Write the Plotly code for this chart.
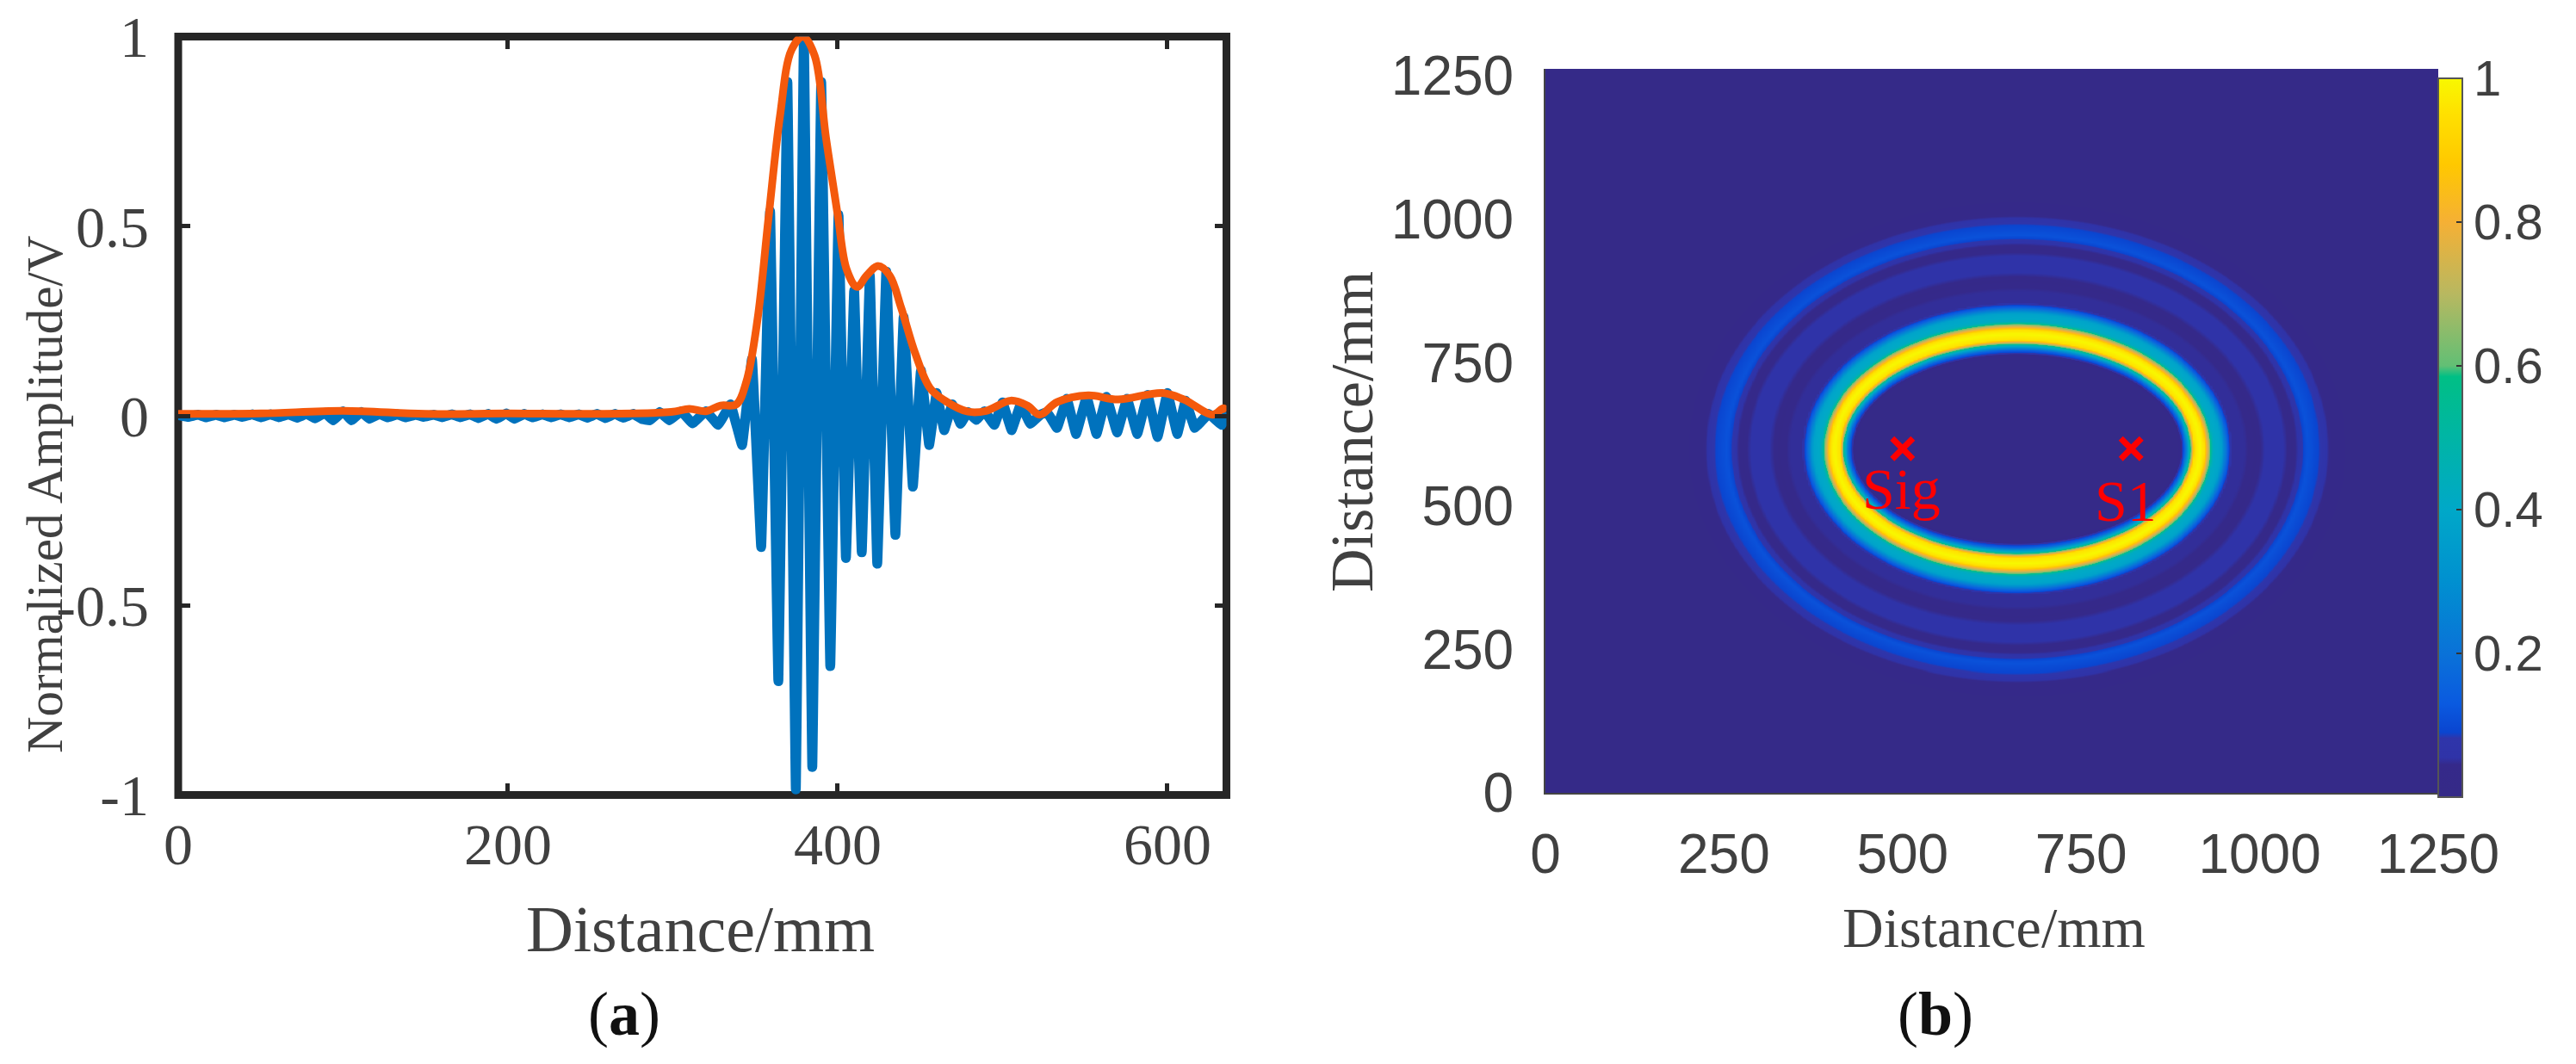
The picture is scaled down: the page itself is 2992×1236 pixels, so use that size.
import numpy as np
import plotly.graph_objects as go

W, H = 2992, 1236

# ---- left panel: oscillating signal, crest / trough readings ----
signal_x = [0,6,12,17,23,28,34,39,45,50,56,61,67,72,78,83,89,94,100,105,111,116,122,127,133,138,144,149,155,160,
            166,171,177,182,188,193,199,204,210,215,221,226,232,237,243,248,254,259,265,270,276,281,
            286,292,298,305,312,320,327.5,335,342,348,353.6,359,364,369.5,374.6,379.5,384.6,390,395.5,400.5,405,410,
            414.6,419.5,424,429.5,435,440,445.6,450.5,455.5,460,464.6,469.5,474.5,479,484,489,495,500,505.5,511,516.8,
            523,527,533,539,544.6,551,557,563,569.5,575.5,581.7,588,594,600,606,611,616.6,625,633,636]
signal_y = [.002,-.003,.003,-.004,.003,-.004,.003,-.003,.004,-.004,.004,-.004,.004,-.005,.005,-.007,.008,-.012,.012,-.012,.01,-.008,.005,-.004,.004,-.004,.003,-.003,.003,-.004,
            .004,-.004,.004,-.006,.005,-.008,.006,-.008,.005,-.004,.004,-.004,.004,-.004,.004,-.005,.005,-.006,.005,-.005,.005,-.008,
            -.012,.01,-.012,.012,-.02,.012,-.024,.03,-.077,.15,-.346,.54,-.70,.88,-.985,1.0,-.926,.88,-.66,.53,-.375,.33,
            -.36,.37,-.39,.38,-.314,.26,-.187,.12,-.077,.06,-.038,.03,-.021,.01,-.011,.012,-.024,.035,-.038,.03,-.021,
            .003,.01,-.032,.045,-.048,.05,-.048,.05,-.044,.045,-.048,.055,-.056,.06,-.048,.04,-.032,.005,-.024,.01]

# ---- left panel: envelope readings ----
envelope_x = [0,50,100,150,200,250,299,310,320,329,338.5,344.6,351.4,358,365,372,379,386,393,400,405.5,411.7,417.6,424.5,
              431.5,438.5,447,456,465,479,490,505,515,522.6,533,552,570,597,610,627.6,634,636]
envelope_y = [.005,.006,.013,.005,.006,.005,.01,.018,.012,.027,.03,.09,.255,.52,.79,.965,1.0,.95,.73,.53,.385,.34,.37,.395,
              .37,.285,.165,.073,.04,.011,.013,.04,.027,.003,.036,.054,.043,.06,.043,.003,.02,.012]

# ---- right panel: ring profile read across the image, value against ellipse semi-axis ----
ring_a = [0,225,229,235,241,248,256,262,268,274,285,294,300,318,334,350,370,384,392,406,422,442,470,900]
ring_v = [.018,.02,.03,.15,.45,.95,1.0,.95,.7,.42,.38,.15,.05,.05,.035,.06,.06,.035,.05,.115,.09,.03,.018,.018]
focus_x = [500, 820]
focus_y = [600, 600]
focus_labels = ["Sig", "S1"]
label_x = [499, 812]
label_y = [530, 508]

x_ticks_a = [0, 200, 400, 600]
y_ticks_a = [-1, -0.5, 0, 0.5, 1]
y_text_a = ["-1", "-0.5", "0", "0.5", "1"]
ticks_b = [0, 250, 500, 750, 1000, 1250]
cbar_ticks = [0.2, 0.4, 0.6, 0.8, 1]
cbar_text = ["0.2", "0.4", "0.6", "0.8", "1"]

colorscale = [[0, "#352a87"], [.045, "#35298a"], [.055, "#2f33a8"], [.082, "#2f35aa"], [.09, "#0a45d0"],
              [.13, "#0a5ae0"], [.2, "#0a72d8"], [.3, "#0090d0"], [.4, "#00a8c8"], [.5, "#00b5a5"],
              [.585, "#00bf85"], [.6, "#62bf75"], [.7, "#b8b860"], [.8, "#f5b035"], [.88, "#ffc800"],
              [.95, "#ffe000"], [1, "#f8f800"]]

# The image field: each cell takes the hand-read ring value for the ellipse through it (foci at the two sensors).
gx = np.linspace(0, 1250, 420)
gy = np.linspace(0, 1262, 420)
X, Y = np.meshgrid(gx, gy)
semi = (np.hypot(X - focus_x[0], Y - focus_y[0]) + np.hypot(X - focus_x[1], Y - focus_y[1])) / 2
field = np.interp(semi, ring_a, ring_v)

def fx(p): return p / W
def fy(p): return 1 - p / H

DARK = "#262626"
TXT = "#404040"
SERIF = "Liberation Serif"
SANS = "Liberation Sans"

fig = go.Figure()
fig.add_trace(go.Scatter(x=signal_x, y=signal_y, mode="lines", cliponaxis=False, showlegend=False,
                         line=dict(color="#0072bd", width=11.5, shape="spline", smoothing=0.15), xaxis="x", yaxis="y"))
fig.add_trace(go.Scatter(x=envelope_x, y=envelope_y, mode="lines", cliponaxis=False, showlegend=False,
                         line=dict(color="#f4590c", width=9, shape="spline", smoothing=1), xaxis="x", yaxis="y"))
fig.add_trace(go.Heatmap(x=gx, y=gy, z=field, zmin=0, zmax=1, zsmooth="best", colorscale=colorscale, xaxis="x2", yaxis="y2",
                         colorbar=dict(x=fx(2832), xanchor="left", xpad=0, ypad=0, y=fy(926), yanchor="bottom",
                                       len=(926 - 91) / H, lenmode="fraction", thickness=28, thicknessmode="pixels",
                                       outlinecolor="#555555", outlinewidth=2, tickvals=cbar_ticks, ticktext=cbar_text,
                                       ticks="inside", ticklen=8, tickwidth=2, tickcolor="#333333",
                                       tickfont=dict(family=SANS, size=58, color=TXT))))
fig.add_trace(go.Scatter(x=focus_x, y=focus_y, mode="markers", showlegend=False, xaxis="x2", yaxis="y2",
                         marker=dict(symbol="x-thin", size=24, color="#ff0000", line=dict(color="#ff0000", width=7))))

ann = [
    dict(text="Normalized Amplitude/V", x=fx(52), y=fy(575), textangle=-90, font=dict(family=SERIF, size=59, color=TXT)),
    dict(text="Distance/mm", x=fx(814), y=fy(1079), font=dict(family=SERIF, size=76, color=TXT)),
    dict(text="Distance/mm", x=fx(2316), y=fy(1077), font=dict(family=SERIF, size=66, color=TXT)),
    dict(text="Distance/mm", x=fx(1570), y=fy(502), textangle=-90, font=dict(family=SERIF, size=70, color=TXT)),
    dict(text="(<b>a</b>)", x=fx(725), y=fy(1178), font=dict(family=SERIF, size=72, color="#111111")),
    dict(text="(<b>b</b>)", x=fx(2248), y=fy(1178), font=dict(family=SERIF, size=72, color="#111111")),
]
ann = [dict(a, xref="paper", yref="paper", showarrow=False, xanchor="center", yanchor="middle") for a in ann]
for t, lx, ly in zip(focus_labels, label_x, label_y):
    ann.append(dict(text=t, x=lx, y=ly, xref="x2", yref="y2", showarrow=False,
                    font=dict(family=SERIF, size=68, color="#ff0000")))

fig.update_layout(
    width=W, height=H, autosize=False, margin=dict(l=0, r=0, t=0, b=0, autoexpand=False),
    paper_bgcolor="white", plot_bgcolor="white", showlegend=False, annotations=ann,
    shapes=[dict(type="rect", xref="paper", yref="paper", x0=fx(207), x1=fx(1424.5), y0=fy(923.5), y1=fy(42.5),
                 line=dict(color=DARK, width=9), layer="below")],
    xaxis=dict(domain=[fx(207), fx(1424.5)], range=[0, 635.8], anchor="y", tickvals=x_ticks_a, ticks="inside", ticklen=14,
               tickwidth=5, tickcolor=DARK, mirror="ticks", showgrid=False, zeroline=False, showline=False,
               tickfont=dict(family=SERIF, size=68, color=TXT), ticklabelstandoff=11),
    yaxis=dict(domain=[fy(923.5), fy(42.5)], range=[-1, 1], anchor="x", tickvals=y_ticks_a, ticktext=y_text_a,
               ticks="inside", ticklen=14, tickwidth=5, tickcolor=DARK, mirror="ticks", showgrid=False, zeroline=False,
               showline=False, tickfont=dict(family=SERIF, size=68, color=TXT), ticklabelstandoff=33),
    xaxis2=dict(domain=[fx(1795), fx(2832)], range=[0, 1250], anchor="y2", tickvals=ticks_b, ticks="", showgrid=False,
                zeroline=False, showline=True, linecolor="#444444", linewidth=2,
                tickfont=dict(family=SANS, size=64, color=TXT), ticklabelstandoff=14),
    yaxis2=dict(domain=[fy(921), fy(80)], range=[0, 1262], anchor="x2", tickvals=ticks_b, ticks="", showgrid=False,
                zeroline=False, showline=True, linecolor="#444444", linewidth=2,
                tickfont=dict(family=SANS, size=64, color=TXT), ticklabelstandoff=22),
)

fig.write_html("out.html", config=dict(displayModeBar=False),
               post_script="document.body.style.margin='0';document.body.style.overflow='hidden';")
